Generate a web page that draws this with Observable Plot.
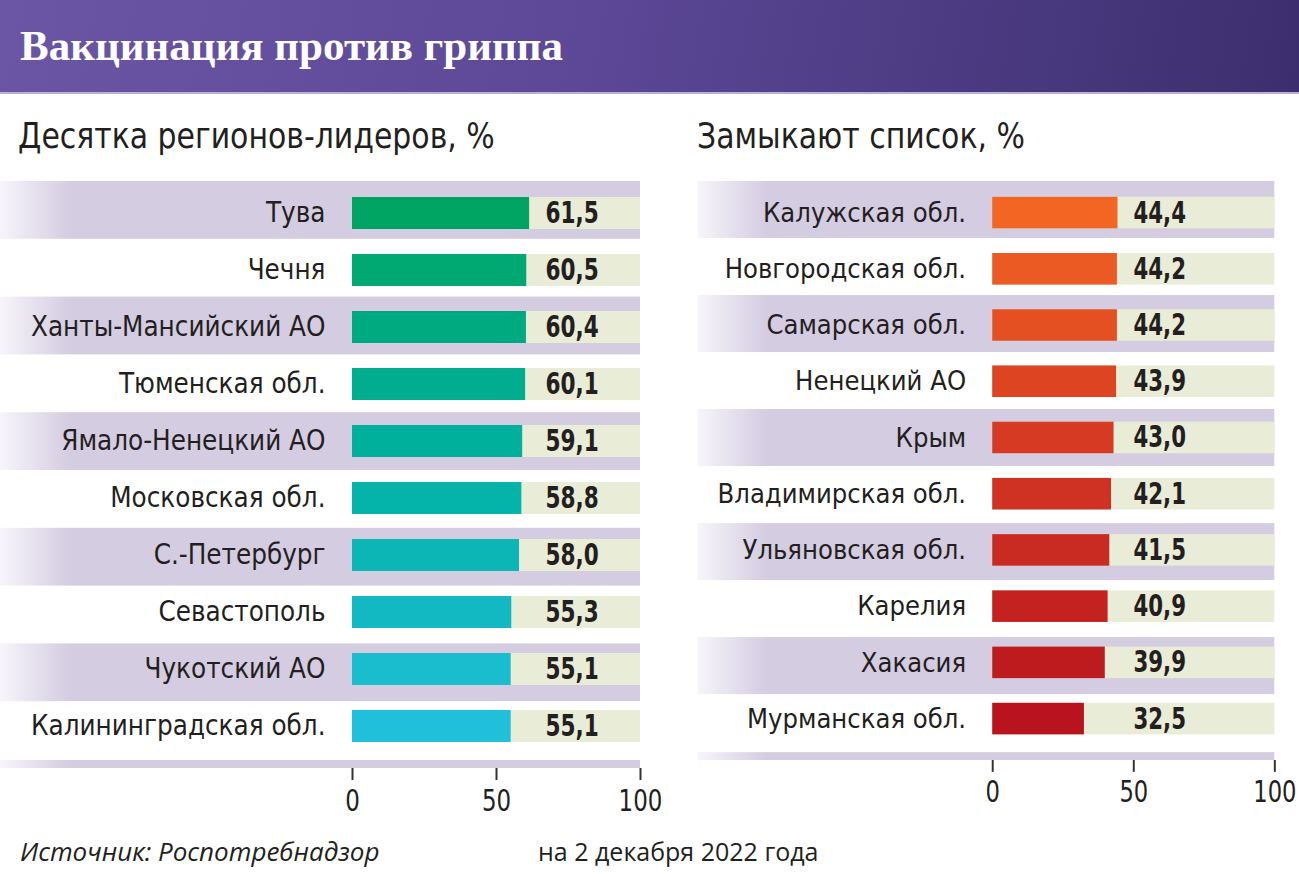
<!DOCTYPE html>
<html><head><meta charset="utf-8">
<script src="https://cdn.jsdelivr.net/npm/d3@7"></script>
<script src="https://cdn.jsdelivr.net/npm/@observablehq/plot@0.6"></script>
<style>
body{margin:0;width:1299px;height:874px;background:#fff;position:relative;overflow:hidden;font-family:"DejaVu Sans Condensed",sans-serif;color:#231f20}
#header{position:absolute;left:0;top:0;width:1299px;height:92px;background:linear-gradient(100deg,#6b56a6 0%,#5c4897 45%,#3c2e6e 100%);border-bottom:2px solid #b8aed6}
#title{position:absolute;left:20px;top:24px;line-height:1;font-family:"Liberation Serif",serif;font-weight:bold;font-size:43px;color:#fff;white-space:nowrap}
.sub{position:absolute;top:119px;line-height:1;font-size:35px;white-space:nowrap;transform:scaleX(0.95);transform-origin:0 0}
.panel{position:absolute;top:181px}
.foot{position:absolute;top:839px;line-height:1;font-family:"Open Sans","Liberation Sans",sans-serif;font-size:25px;white-space:nowrap;color:#231f20}
svg{overflow:visible}
</style></head>
<body>
<div id="header"><div id="title">Вакцинация против гриппа</div></div>
<div class="sub" style="left:18px">Десятка регионов-лидеров, %</div>
<div class="sub" style="left:697px">Замыкают список, %</div>
<div id="left" class="panel" style="left:0px"></div>
<div id="right" class="panel" style="left:645px"></div>
<div class="foot" style="left:20px;font-style:italic;font-size:26px;top:838px">Источник: Роспотребнадзор</div>
<div class="foot" style="left:538px">на 2 декабря 2022 года</div>
<script>
// ---- data ----
const leaderNames = ["Тува","Чечня","Ханты-Мансийский АО","Тюменская обл.","Ямало-Ненецкий АО","Московская обл.","С.-Петербург","Севастополь","Чукотский АО","Калининградская обл."];
const leaderValues = [61.5,60.5,60.4,60.1,59.1,58.8,58.0,55.3,55.1,55.1];
const lastNames = ["Калужская обл.","Новгородская обл.","Самарская обл.","Ненецкий АО","Крым","Владимирская обл.","Ульяновская обл.","Карелия","Хакасия","Мурманская обл."];
const lastValues = [44.4,44.2,44.2,43.9,43.0,42.1,41.5,40.9,39.9,32.5];
const xTicks = [0,50,100];

const fmt = v => v.toFixed(1).replace(".", ",");

function bandMark(bandX0, id) {
  return (index, scales, values, dim) => {
    const g = d3.create("svg:g");
    const grad = g.append("defs").append("linearGradient")
      .attr("id", id).attr("gradientUnits", "userSpaceOnUse")
      .attr("x1", bandX0).attr("x2", bandX0 + 70).attr("y1", 0).attr("y2", 0);
    grad.append("stop").attr("offset", 0).attr("stop-color", "#f7f5fa");
    grad.append("stop").attr("offset", 1).attr("stop-color", "#d4cce1");
    const top = dim.marginTop, h = dim.height - dim.marginTop - dim.marginBottom;
    const step = h / 10;
    const x2 = dim.width - dim.marginRight;
    for (let i = 0; i < 10; i += 2) {
      g.append("rect").attr("x", bandX0).attr("width", x2 - bandX0)
        .attr("y", top + i * step).attr("height", step).attr("fill", `url(#${id})`);
    }
    g.append("rect").attr("x", bandX0).attr("width", x2 - bandX0)
      .attr("y", top + h + 1).attr("height", 8).attr("fill", `url(#${id})`);
    return g.node();
  };
}

function squeeze(t, s) {
  const tr = t.getAttribute("transform");
  if (tr) t.setAttribute("transform", tr + ` scale(${s},1)`);
  else {
    const x = +t.getAttribute("x") || 0, y = +t.getAttribute("y") || 0;
    t.setAttribute("transform", `translate(${x},${y}) scale(${s},1) translate(${-x},${-y})`);
  }
}

function panel(names, values, colors, bandX0, id, width) {
  const rows = names.map((name, i) => ({name, value: values[i], i}));
  const labelX = d3.max(values) + 5.5;
  const svg = Plot.plot({
    width, height: 638,
    marginLeft: 352, marginRight: 25, marginTop: 0, marginBottom: 60,
    style: {fontFamily: '"DejaVu Sans Condensed",sans-serif', color: "#231f20", background: "transparent"},
    x: {domain: [0, 100], axis: null},
    y: {domain: names, paddingInner: 0.43, paddingOuter: 0.215, axis: null},
    color: {type: "linear", domain: [0, 9], range: colors, interpolate: "rgb"},
    marks: [
      bandMark(bandX0, id),
      Plot.barX(rows, {x1: 0, x2: 100, y: "name", fill: "#e9ecd7"}),
      Plot.barX(rows, {x: "value", y: "name", fill: "i"}),
      Plot.text(rows, {y: "name", text: "name", frameAnchor: "left", textAnchor: "end", dx: -27, fontSize: 27.5, fill: "#231f20"}),
      Plot.text(rows, {x: () => labelX, y: "name", text: d => fmt(d.value), textAnchor: "start", fontSize: 30, fontWeight: "bold", fill: "#231f20"}),
      Plot.axisX({ticks: xTicks, tickSize: 12, dy: 9, tickPadding: 9, fontSize: 30, stroke: "#333", strokeWidth: 2, tickFormat: d => d, fill: "#231f20", label: null})
    ]
  });
  svg.querySelectorAll("text").forEach(t => {
    const txt = t.textContent.trim();
    const boldParent = t.closest('[font-weight="bold"]');
    if (boldParent) squeeze(t, 0.8);
    else if (/^\d+$/.test(txt)) squeeze(t, 0.85);
  });
  return svg;
}

document.getElementById("left").append(panel(leaderNames, leaderValues, ["#00a564", "#00b1a3", "#20c0da"], 0, "gL", 665));
document.getElementById("right").append(panel(lastNames, lastValues, ["#f26522", "#d23522", "#b8131e"], 53, "gR", 663));
</script>
</body></html>
